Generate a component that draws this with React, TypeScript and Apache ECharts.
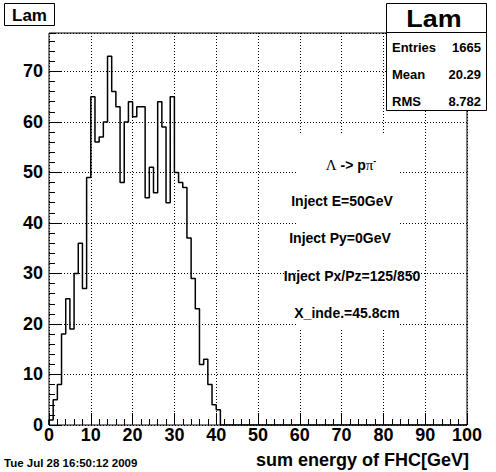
import React, { useEffect, useRef } from "react";
import * as echarts from "echarts";

// ---- data ----
const X_MIN = 0;
const X_MAX = 100;
const BIN_WIDTH = 1;
const Y_MAX = 77.6;
// counts per 1 GeV bin, 0..100 GeV
const counts: number[] = [
  1, 5, 8, 18, 25, 19, 30, 36, 27, 49,
  65, 56, 57, 60, 73, 66, 63, 48, 60, 64,
  61, 63, 63, 45, 51, 46, 64, 59, 44, 65,
  50, 48, 47, 37, 29, 23, 12, 13, 8, 4,
  3, 0, 0, 0, 0, 0, 0, 0, 0, 0,
  0, 0, 0, 0, 0, 0, 0, 0, 0, 0,
  0, 0, 0, 0, 0, 0, 0, 0, 0, 0,
  0, 0, 0, 0, 0, 0, 0, 0, 0, 0,
  0, 0, 0, 0, 0, 0, 0, 0, 0, 0,
  0, 0, 0, 0, 0, 0, 0, 0, 0, 0,
];
const histTitle = "Lam";
const statsLabels = ["Entries", "Mean", "RMS"];
const statsValues = ["1665", "20.29", "8.782"];
const infoLines = [
  "Inject E=50GeV",
  "Inject Py=0GeV",
  "Inject Px/Pz=125/850",
  "X_inde.=45.8cm",
];
const xTitle = "sum energy of FHC[GeV]";
const dateText = "Tue Jul 28 16:50:12 2009";

const FONT = '"Liberation Sans", Arial, Helvetica, sans-serif';
const SERIF = '"Liberation Serif", "DejaVu Serif", serif';

export default function App() {
  const ref = useRef<HTMLDivElement>(null);
  useEffect(() => {
    const chart = echarts.init(ref.current!, null, { renderer: "svg" });
    const data: [number, number][] = [[X_MIN, 0]];
    counts.forEach((c, i) => data.push([X_MIN + i * BIN_WIDTH, c]));
    data.push([X_MAX, counts[counts.length - 1]]);

    const tickStyle = { color: "#000", width: 1 };
    const labelStyle = {
      color: "#000",
      fontSize: 18,
      fontWeight: "bold" as const,
      fontFamily: FONT,
    };
    const gridLine = { show: true, lineStyle: { color: "#000", width: 1, type: [1, 2] as any } };

    const infoY = [201, 238, 276, 313];
    const infoX = [342, 340, 352, 347];
    const statsY = [47, 74, 101];

    const graphic: any[] = [
      // white pave behind annotations
      { type: "rect", z: 50, shape: { x: 297, y: 133, width: 101, height: 197 }, style: { fill: "#fff" } },
      {
        type: "text", z: 51, x: 351, y: 165,
        style: {
          text: "{g|Λ}{b| -> p}{g|π}{s|-}",
          align: "center", verticalAlign: "middle", fill: "#000",
          rich: {
            g: { fontFamily: SERIF, fontSize: 15, fill: "#000" },
            b: { fontFamily: FONT, fontSize: 14, fontWeight: "bold", fill: "#000" },
            s: { fontFamily: FONT, fontSize: 9, fontWeight: "bold", fill: "#000", padding: [0, 0, 9, 0] },
          },
        },
      },
      ...infoLines.map((t, i) => ({
        type: "text", z: 51, x: infoX[i], y: infoY[i],
        style: { text: t, align: "center", verticalAlign: "middle", fontFamily: FONT, fontSize: 14, fontWeight: "bold", fill: "#000" },
      })),
      // title box
      { type: "rect", z: 60, shape: { x: 4.5, y: 3.5, width: 50, height: 22 }, style: { fill: "#fff", stroke: "#000", lineWidth: 1 } },
      {
        type: "text", z: 61, x: 29.5, y: 15,
        style: { text: histTitle, align: "center", verticalAlign: "middle", fontFamily: FONT, fontSize: 17, fontWeight: "bold", fill: "#000" },
      },
      // stats box
      { type: "rect", z: 60, shape: { x: 386.5, y: 3.5, width: 100, height: 107 }, style: { fill: "#fff", stroke: "#000", lineWidth: 1 } },
      { type: "line", z: 61, shape: { x1: 386.5, y1: 32.5, x2: 486.5, y2: 32.5 }, style: { stroke: "#000", lineWidth: 1 } },
      {
        type: "text", z: 61, x: 434, y: 19, scaleX: 1.12, scaleY: 1, originX: 0, originY: 0,
        style: { text: histTitle, align: "center", verticalAlign: "middle", fontFamily: FONT, fontSize: 24, fontWeight: "bold", fill: "#000" },
      },
      ...statsLabels.map((t, i) => ({
        type: "text", z: 61, x: 392, y: statsY[i],
        style: { text: t, align: "left", verticalAlign: "middle", fontFamily: FONT, fontSize: 13, fontWeight: "bold", fill: "#000" },
      })),
      ...statsValues.map((t, i) => ({
        type: "text", z: 61, x: 481, y: statsY[i],
        style: { text: t, align: "right", verticalAlign: "middle", fontFamily: FONT, fontSize: 13, fontWeight: "bold", fill: "#000" },
      })),
      // axis title
      {
        type: "text", z: 61, x: 469, y: 460,
        style: { text: xTitle, align: "right", verticalAlign: "middle", fontFamily: FONT, fontSize: 18, fontWeight: "bold", fill: "#000" },
      },
      // date
      {
        type: "text", z: 61, x: 4, y: 463,
        style: { text: dateText, align: "left", verticalAlign: "middle", fontFamily: FONT, fontSize: 11.5, fontWeight: "bold", fill: "#000" },
      },
    ];

    const option: any = {
      animation: false,
      backgroundColor: "#fff",
      grid: { left: 49, top: 33, width: 418, height: 392, show: true, borderColor: "#000", borderWidth: 1, backgroundColor: "transparent" },
      xAxis: [
        {
          type: "value", min: X_MIN, max: X_MAX, interval: 10, position: "bottom",
          axisLine: { show: false },
          axisTick: { show: true, inside: true, length: 12, lineStyle: tickStyle },
          axisLabel: { ...labelStyle, margin: 1 },
          splitLine: gridLine,
        },
        {
          type: "value", min: X_MIN, max: X_MAX, interval: 2, position: "bottom",
          axisLine: { show: false },
          axisTick: { show: true, inside: true, length: 6, lineStyle: tickStyle },
          axisLabel: { show: false },
          splitLine: { show: false },
        },
      ],
      yAxis: [
        {
          type: "value", min: 0, max: Y_MAX, interval: 10, position: "left",
          axisLine: { show: false },
          axisTick: { show: true, inside: true, length: 12, lineStyle: tickStyle },
          axisLabel: { ...labelStyle, margin: 6, showMaxLabel: false, formatter: (v: number) => (Number.isInteger(v) ? String(v) : "") },
          splitLine: gridLine,
        },
        {
          type: "value", min: 0, max: Y_MAX, interval: 2, position: "left",
          axisLine: { show: false },
          axisTick: { show: true, inside: true, length: 6, lineStyle: tickStyle },
          axisLabel: { show: false },
          splitLine: { show: false },
        },
      ],
      series: [
        {
          type: "line",
          xAxisIndex: 0,
          yAxisIndex: 0,
          step: "end",
          symbol: "none",
          data,
          lineStyle: { color: "#000", width: 1.5 },
          z: 5,
        },
      ],
      graphic,
    };
    chart.setOption(option);
    return () => chart.dispose();
  }, []);
  return (
    <div
      ref={ref}
      style={{ position: "fixed", left: 0, top: 0, width: 496, height: 472, background: "#fff" }}
    />
  );
}
